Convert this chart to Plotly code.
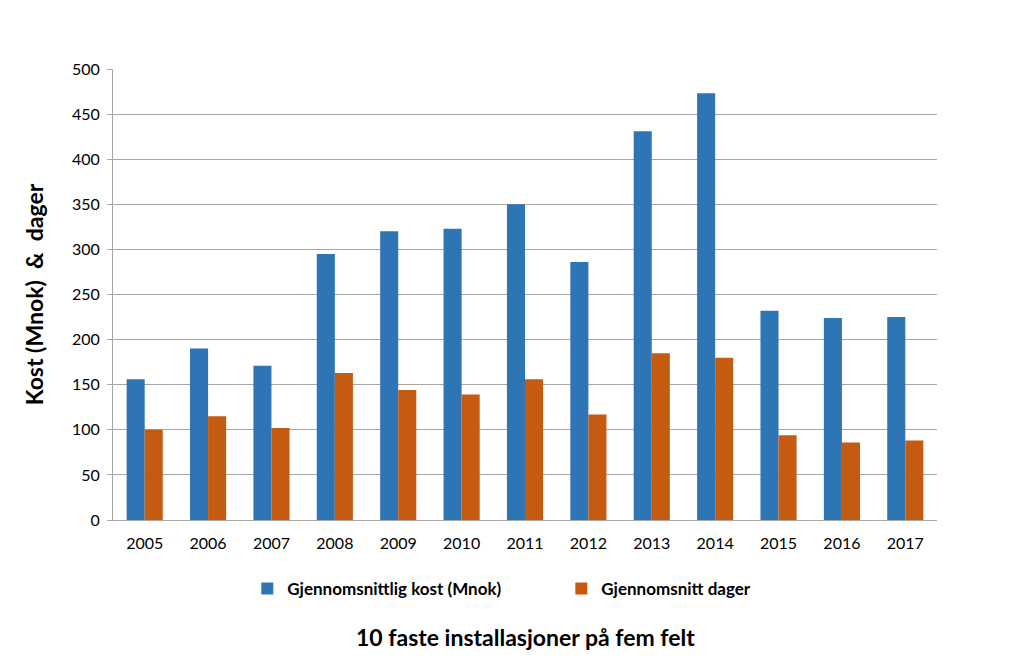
import plotly.graph_objects as go

years = ["2005", "2006", "2007", "2008", "2009", "2010", "2011", "2012", "2013", "2014", "2015", "2016", "2017"]
kost = [156, 190, 171, 295, 320, 323, 350, 286, 431, 473, 232, 224, 225]
dager = [100, 115, 102, 163, 144, 139, 156, 117, 185, 180, 94, 86, 88]
y_ticks = [0, 50, 100, 150, 200, 250, 300, 350, 400, 450, 500]

FONT = "Lato, Carlito, Calibri, sans-serif"

fig = go.Figure()
fig.add_trace(go.Bar(x=years, y=kost, name="Gjennomsnittlig kost (Mnok)", marker_color="#2E75B6", marker_line_width=0))
fig.add_trace(go.Bar(x=years, y=dager, name="Gjennomsnitt dager", marker_color="#C55A11", marker_line_width=0))

fig.update_layout(
    width=1023, height=672,
    margin=dict(l=113, r=86, t=69, b=152),
    paper_bgcolor="white", plot_bgcolor="white",
    barmode="group", bargap=0.43, bargroupgap=0,
    font=dict(family=FONT, size=16, color="#000000"),
    showlegend=True,
    legend=dict(orientation="h", x=0.163, y=-0.113, xanchor="left", yanchor="top",
                font=dict(family=FONT, size=17, color="#000000", weight="bold"),
                itemwidth=30, entrywidth=269, entrywidthmode="pixels"),
    xaxis=dict(showline=True, linecolor="#a6a6a6", linewidth=1, ticks="", showgrid=False,
               ticklabelstandoff=9,
               tickfont=dict(family=FONT, size=16, color="#000000")),
    yaxis=dict(range=[0, 500], tickvals=y_ticks, showgrid=True, gridcolor="#a6a6a6", gridwidth=1,
               showline=True, linecolor="#a6a6a6", linewidth=1, ticks="outside", ticklen=5, tickcolor="#a6a6a6",
               ticklabelstandoff=4,
               tickfont=dict(family=FONT, size=16, color="#000000"), zeroline=False,
               title=dict(text="Kost (Mnok)  &  dager", font=dict(family=FONT, size=23, color="#000000", weight="bold"), standoff=21)),
)
fig.add_annotation(text="<b>10 faste installasjoner på fem felt</b>", xref="paper", yref="paper",
                   x=0.5, y=-0.26, xanchor="center", yanchor="middle", showarrow=False,
                   font=dict(family=FONT, size=23, color="#000000"))

fig.write_html("out.html")
